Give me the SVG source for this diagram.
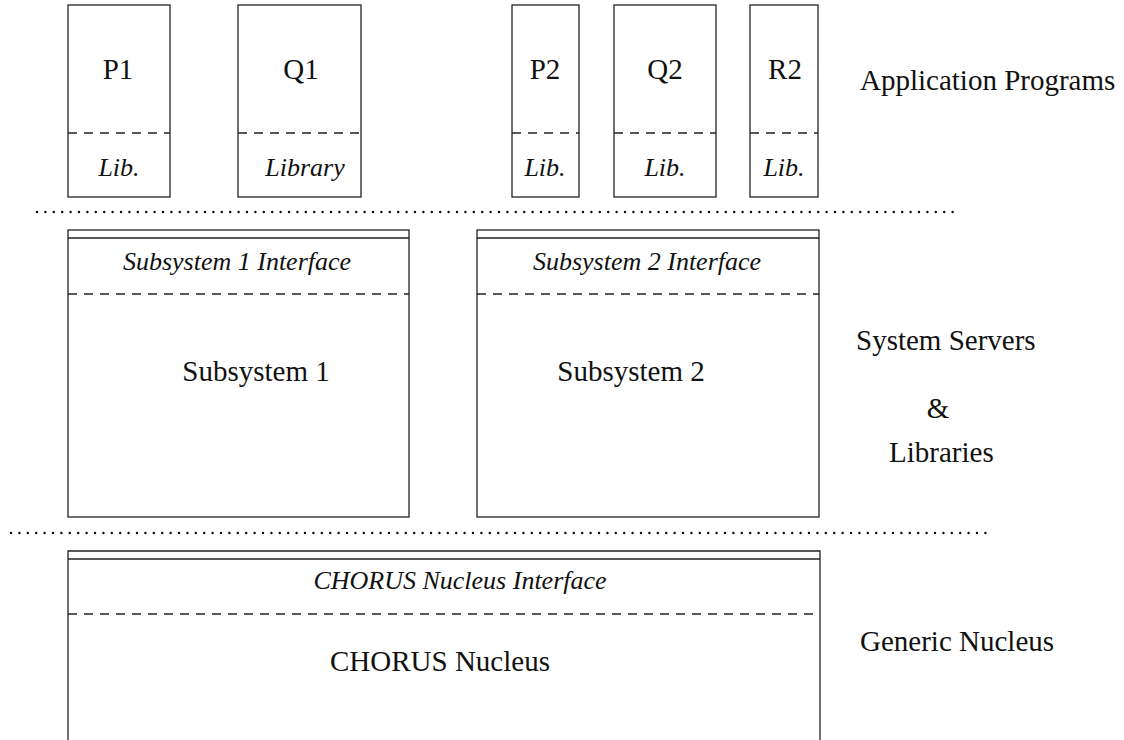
<svg xmlns="http://www.w3.org/2000/svg" width="1124" height="740" viewBox="0 0 1124 740">
<style>
.box{fill:none;stroke:#222;stroke-width:1.3}
.dash{fill:none;stroke:#222;stroke-width:1.3;stroke-dasharray:9 7}
.dot{fill:none;stroke:#111;stroke-width:2.5;stroke-linecap:round;stroke-dasharray:0 8.4}
.t{font-family:"Liberation Serif","Times New Roman",serif;font-size:29px;fill:#111}
.i{font-family:"Liberation Serif","Times New Roman",serif;font-size:26px;font-style:italic;fill:#111}
.m{text-anchor:middle}
</style>
<rect width="1124" height="740" fill="#fff"/>
<g id="separators">
<line class="dot" x1="37" y1="212" x2="960" y2="212"/>
<line class="dot" x1="11" y1="533" x2="988" y2="533"/>
</g>
<g id="P1">
<rect class="box" x="68" y="5" width="102" height="192"/>
<line class="dash" x1="68" y1="133" x2="170" y2="133"/>
<text class="t m" x="118" y="79">P1</text>
<text class="i m" x="119" y="176">Lib.</text>
</g>
<g id="Q1">
<rect class="box" x="238" y="5" width="123" height="192"/>
<line class="dash" x1="238" y1="133" x2="361" y2="133"/>
<text class="t m" x="301" y="79">Q1</text>
<text class="i m" x="305" y="176">Library</text>
</g>
<g id="P2">
<rect class="box" x="512" y="5" width="67" height="192"/>
<line class="dash" x1="512" y1="133" x2="579" y2="133"/>
<text class="t m" x="545" y="79">P2</text>
<text class="i m" x="545" y="176">Lib.</text>
</g>
<g id="Q2">
<rect class="box" x="614" y="5" width="102" height="192"/>
<line class="dash" x1="614" y1="133" x2="716" y2="133"/>
<text class="t m" x="665" y="79">Q2</text>
<text class="i m" x="665" y="176">Lib.</text>
</g>
<g id="R2">
<rect class="box" x="750" y="5" width="68" height="192"/>
<line class="dash" x1="750" y1="133" x2="818" y2="133"/>
<text class="t m" x="785" y="79">R2</text>
<text class="i m" x="784" y="176">Lib.</text>
</g>
<g id="subsystem1">
<rect class="box" x="68" y="230" width="341" height="287"/>
<line class="box" x1="68" y1="238" x2="409" y2="238"/>
<line class="dash" x1="68" y1="294" x2="409" y2="294"/>
<text class="i m" x="237" y="270">Subsystem 1 Interface</text>
<text class="t m" x="256" y="381">Subsystem 1</text>
</g>
<g id="subsystem2">
<rect class="box" x="477" y="230" width="342" height="287"/>
<line class="box" x1="477" y1="238" x2="819" y2="238"/>
<line class="dash" x1="477" y1="294" x2="819" y2="294"/>
<text class="i m" x="647" y="270">Subsystem 2 Interface</text>
<text class="t m" x="631" y="381">Subsystem 2</text>
</g>
<g id="nucleus">
<path class="box" d="M68 745 V551 H820 V745"/>
<line class="box" x1="68" y1="559" x2="820" y2="559"/>
<line class="dash" x1="68" y1="614" x2="820" y2="614"/>
<text class="i m" x="460" y="589">CHORUS Nucleus Interface</text>
<text class="t m" x="440" y="671">CHORUS Nucleus</text>
</g>
<g id="layer-labels">
<text class="t" x="860" y="90">Application Programs</text>
<text class="t" x="856" y="350">System Servers</text>
<text class="t m" x="938" y="418">&amp;</text>
<text class="t" x="889" y="462">Libraries</text>
<text class="t" x="860" y="651">Generic Nucleus</text>
</g>
</svg>
